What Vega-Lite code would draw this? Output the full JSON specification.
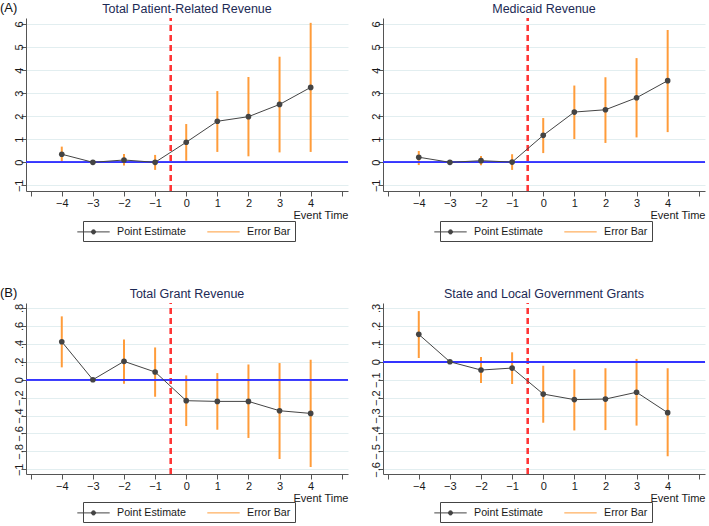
{
  "$schema": "https://vega.github.io/schema/vega-lite/v6.json",
  "background": "white",
  "padding": {"top": 1, "left": 0, "right": 0, "bottom": 0},
  "config": {
    "view": {"stroke": null},
    "font": "Liberation Sans",
    "axis": {
      "domainColor": "#555555", "tickColor": "#555555", "labelColor": "#1a1a1a",
      "labelFontSize": 11, "labelFont": "Liberation Sans", "tickSize": 5, "labelPadding": 1,
      "labelOverlap": false, "labelSeparation": -40, "labelFlush": false,
      "titleFont": "Liberation Sans", "titleFontWeight": "normal", "titleFontSize": 11, "titleColor": "#1a1a1a",
      "gridColor": "#e2eef0", "domainWidth": 1
    },
    "axisY": {"labelPadding": -3},
    "title": {"font": "Liberation Sans", "fontSize": 12.5, "fontWeight": "normal", "color": "#1c2a55", "offset": 2},
    "legend": {"labelFont": "Liberation Sans", "labelFontSize": 10.7, "labelColor": "#1a1a1a"}
  },
  "data": {
    "values": [
      {"panel": "A1", "t": -4, "est": 0.35, "lo": 0.03, "hi": 0.68},
      {"panel": "A1", "t": -3, "est": 0},
      {"panel": "A1", "t": -2, "est": 0.10, "lo": -0.14, "hi": 0.36},
      {"panel": "A1", "t": -1, "est": 0.00, "lo": -0.33, "hi": 0.32},
      {"panel": "A1", "t": 0, "est": 0.87, "lo": 0.07, "hi": 1.66},
      {"panel": "A1", "t": 1, "est": 1.78, "lo": 0.45, "hi": 3.09},
      {"panel": "A1", "t": 2, "est": 1.98, "lo": 0.26, "hi": 3.70},
      {"panel": "A1", "t": 3, "est": 2.51, "lo": 0.43, "hi": 4.58},
      {"panel": "A1", "t": 4, "est": 3.25, "lo": 0.45, "hi": 6.05},
      {"panel": "A2", "t": -4, "est": 0.22, "lo": -0.12, "hi": 0.49},
      {"panel": "A2", "t": -3, "est": 0},
      {"panel": "A2", "t": -2, "est": 0.07, "lo": -0.13, "hi": 0.27},
      {"panel": "A2", "t": -1, "est": 0.01, "lo": -0.33, "hi": 0.35},
      {"panel": "A2", "t": 0, "est": 1.17, "lo": 0.40, "hi": 1.92},
      {"panel": "A2", "t": 1, "est": 2.18, "lo": 1.01, "hi": 3.33},
      {"panel": "A2", "t": 2, "est": 2.28, "lo": 0.84, "hi": 3.69},
      {"panel": "A2", "t": 3, "est": 2.80, "lo": 1.08, "hi": 4.52},
      {"panel": "A2", "t": 4, "est": 3.54, "lo": 1.31, "hi": 5.74},
      {"panel": "B1", "t": -4, "est": 0.424, "lo": 0.138, "hi": 0.707},
      {"panel": "B1", "t": -3, "est": 0},
      {"panel": "B1", "t": -2, "est": 0.205, "lo": -0.045, "hi": 0.45},
      {"panel": "B1", "t": -1, "est": 0.086, "lo": -0.19, "hi": 0.36},
      {"panel": "B1", "t": 0, "est": -0.234, "lo": -0.517, "hi": 0.048},
      {"panel": "B1", "t": 1, "est": -0.242, "lo": -0.558, "hi": 0.074},
      {"panel": "B1", "t": 2, "est": -0.242, "lo": -0.65, "hi": 0.17},
      {"panel": "B1", "t": 3, "est": -0.346, "lo": -0.885, "hi": 0.186},
      {"panel": "B1", "t": 4, "est": -0.376, "lo": -0.974, "hi": 0.223},
      {"panel": "B2", "t": -4, "est": 0.153, "lo": 0.021, "hi": 0.283},
      {"panel": "B2", "t": -3, "est": 0},
      {"panel": "B2", "t": -2, "est": -0.046, "lo": -0.118, "hi": 0.027},
      {"panel": "B2", "t": -1, "est": -0.035, "lo": -0.124, "hi": 0.053},
      {"panel": "B2", "t": 0, "est": -0.18, "lo": -0.34, "hi": -0.022},
      {"panel": "B2", "t": 1, "est": -0.211, "lo": -0.383, "hi": -0.042},
      {"panel": "B2", "t": 2, "est": -0.208, "lo": -0.381, "hi": -0.036},
      {"panel": "B2", "t": 3, "est": -0.170, "lo": -0.356, "hi": 0.016},
      {"panel": "B2", "t": 4, "est": -0.284, "lo": -0.527, "hi": -0.036}
    ]
  },
  "resolve": {"scale": {"color": "independent"}, "legend": {"color": "independent"}},
  "spacing": 44,
  "vconcat": [
    {
      "title": {"text": "(A)", "anchor": "start", "frame": "bounds", "offset": -12, "dx": -13, "fontSize": 13, "color": "#111111"},
      "spacing": 21,
      "resolve": {"scale": {"color": "independent"}, "legend": {"color": "independent"}},
      "hconcat": [
        {
          "title": "Total Patient-Related Revenue",
          "width": 322, "height": 173,
          "transform": [{"filter": "datum.panel === 'A1'"}],
          "encoding": {
            "x": {"field": "t", "type": "quantitative", "scale": {"domain": [-5.15, 5.2], "nice": false, "zero": false},
                  "axis": {"values": [-5, -4, -3, -2, -1, 0, 1, 2, 3, 4, 5], "labelOverlap": false, "labelExpr": "abs(datum.value) == 5 ? '' : datum.label", "title": "Event Time", "titleAnchor": "end", "titlePadding": 1, "grid": false}},
            "y": {"field": "est", "type": "quantitative", "scale": {"domain": [-1.245, 6.26], "nice": false, "zero": false},
                  "axis": {"values": [-1, 0, 1, 2, 3, 4, 5, 6], "labelOverlap": false, "title": null, "grid": true, "labelAngle": 270, "labelAlign": "center", "labelBaseline": "bottom"}}
          },
          "layer": [
            {"mark": {"type": "rule", "color": "#ff3535", "strokeWidth": 1.5, "strokeDash": [6, 4]}, "encoding": {"x": {"datum": -0.5}, "y": {"datum": -1.245}, "y2": {"datum": 6.26}}},
            {
              "transform": [{"filter": "isValid(datum.lo)"}],
              "mark": {"type": "rule", "strokeWidth": 2},
              "encoding": {
                "y": {"field": "lo", "type": "quantitative"},
                "y2": {"field": "hi"},
                "color": {"datum": "Error Bar", "type": "nominal",
                          "scale": {"domain": ["Point Estimate", "Error Bar"], "range": ["#444444", "#ff9c3a"]},
                          "legend": {"title": null, "orient": "none", "legendX": 57, "legendY": 203, "direction": "horizontal",
                                     "strokeColor": "#444444", "padding": 4, "symbolSize": 144, "labelOffset": 17, "columnPadding": 19,
                                     "encode": {"symbols": {"update": {
                                       "shape": {"signal": "datum.value === 'Point Estimate' ? 'M-2.7,0H2.7M-0.35,0A0.35,0.35 0 1,0 0.35,0A0.35,0.35 0 1,0 -0.35,0Z' : 'M-2.7,0H2.7'"},
                                       "fill": {"signal": "datum.value === 'Point Estimate' ? '#444444' : 'transparent'"},
                                       "stroke": {"signal": "datum.value === 'Point Estimate' ? '#444444' : '#ff9c3a'"},
                                       "strokeWidth": {"value": 1}, "opacity": {"value": 1}}}}}}
              }
            },
            {"mark": {"type": "rule", "color": "#3535ff", "strokeWidth": 1.3}, "encoding": {"y": {"datum": 0}, "x": {"datum": -5.15}, "x2": {"datum": 5.2}}},
            {"mark": {"type": "line", "strokeWidth": 1}, "encoding": {"color": {"datum": "Point Estimate", "type": "nominal"}}},
            {"mark": {"type": "point", "filled": true, "size": 32, "opacity": 1}, "encoding": {"color": {"datum": "Point Estimate", "type": "nominal"}}}
          ]
        },
        {
          "title": "Medicaid Revenue",
          "width": 322, "height": 173,
          "transform": [{"filter": "datum.panel === 'A2'"}],
          "encoding": {
            "x": {"field": "t", "type": "quantitative", "scale": {"domain": [-5.15, 5.2], "nice": false, "zero": false},
                  "axis": {"values": [-5, -4, -3, -2, -1, 0, 1, 2, 3, 4, 5], "labelOverlap": false, "labelExpr": "abs(datum.value) == 5 ? '' : datum.label", "title": "Event Time", "titleAnchor": "end", "titlePadding": 1, "grid": false}},
            "y": {"field": "est", "type": "quantitative", "scale": {"domain": [-1.245, 6.26], "nice": false, "zero": false},
                  "axis": {"values": [-1, 0, 1, 2, 3, 4, 5, 6], "labelOverlap": false, "title": null, "grid": true, "labelAngle": 270, "labelAlign": "center", "labelBaseline": "bottom"}}
          },
          "layer": [
            {"mark": {"type": "rule", "color": "#ff3535", "strokeWidth": 1.5, "strokeDash": [6, 4]}, "encoding": {"x": {"datum": -0.5}, "y": {"datum": -1.245}, "y2": {"datum": 6.26}}},
            {
              "transform": [{"filter": "isValid(datum.lo)"}],
              "mark": {"type": "rule", "strokeWidth": 2},
              "encoding": {
                "y": {"field": "lo", "type": "quantitative"},
                "y2": {"field": "hi"},
                "color": {"datum": "Error Bar", "type": "nominal",
                          "scale": {"domain": ["Point Estimate", "Error Bar"], "range": ["#444444", "#ff9c3a"]},
                          "legend": {"title": null, "orient": "none", "legendX": 57, "legendY": 203, "direction": "horizontal",
                                     "strokeColor": "#444444", "padding": 4, "symbolSize": 144, "labelOffset": 17, "columnPadding": 19,
                                     "encode": {"symbols": {"update": {
                                       "shape": {"signal": "datum.value === 'Point Estimate' ? 'M-2.7,0H2.7M-0.35,0A0.35,0.35 0 1,0 0.35,0A0.35,0.35 0 1,0 -0.35,0Z' : 'M-2.7,0H2.7'"},
                                       "fill": {"signal": "datum.value === 'Point Estimate' ? '#444444' : 'transparent'"},
                                       "stroke": {"signal": "datum.value === 'Point Estimate' ? '#444444' : '#ff9c3a'"},
                                       "strokeWidth": {"value": 1}, "opacity": {"value": 1}}}}}}
              }
            },
            {"mark": {"type": "rule", "color": "#3535ff", "strokeWidth": 1.3}, "encoding": {"y": {"datum": 0}, "x": {"datum": -5.15}, "x2": {"datum": 5.2}}},
            {"mark": {"type": "line", "strokeWidth": 1}, "encoding": {"color": {"datum": "Point Estimate", "type": "nominal"}}},
            {"mark": {"type": "point", "filled": true, "size": 32, "opacity": 1}, "encoding": {"color": {"datum": "Point Estimate", "type": "nominal"}}}
          ]
        }
      ]
    },
    {
      "title": {"text": "(B)", "anchor": "start", "frame": "bounds", "offset": -12, "dx": -13, "fontSize": 13, "color": "#111111"},
      "spacing": 21,
      "resolve": {"scale": {"color": "independent"}, "legend": {"color": "independent"}},
      "hconcat": [
        {
          "title": "Total Grant Revenue",
          "width": 322, "height": 171,
          "transform": [{"filter": "datum.panel === 'B1'"}],
          "encoding": {
            "x": {"field": "t", "type": "quantitative", "scale": {"domain": [-5.15, 5.2], "nice": false, "zero": false},
                  "axis": {"values": [-5, -4, -3, -2, -1, 0, 1, 2, 3, 4, 5], "labelOverlap": false, "labelExpr": "abs(datum.value) == 5 ? '' : datum.label", "title": "Event Time", "titleAnchor": "end", "titlePadding": 1, "grid": false}},
            "y": {"field": "est", "type": "quantitative", "scale": {"domain": [-1.052, 0.856], "nice": false, "zero": false},
                  "axis": {"values": [-1, -0.8, -0.6, -0.4, -0.2, 0, 0.2, 0.4, 0.6, 0.8], "labelOverlap": false, "title": null, "grid": true, "labelAngle": 270, "labelAlign": "center", "labelBaseline": "bottom",
                           "labelExpr": "abs(datum.value) < 0.001 ? '0' : (abs(datum.value) > 0.999 ? format(datum.value, 'd') : replace(format(datum.value, '.1f'), '0.', '.'))"}}
          },
          "layer": [
            {"mark": {"type": "rule", "color": "#ff3535", "strokeWidth": 1.5, "strokeDash": [6, 4]}, "encoding": {"x": {"datum": -0.5}, "y": {"datum": -1.052}, "y2": {"datum": 0.856}}},
            {
              "transform": [{"filter": "isValid(datum.lo)"}],
              "mark": {"type": "rule", "strokeWidth": 2},
              "encoding": {
                "y": {"field": "lo", "type": "quantitative"},
                "y2": {"field": "hi"},
                "color": {"datum": "Error Bar", "type": "nominal",
                          "scale": {"domain": ["Point Estimate", "Error Bar"], "range": ["#444444", "#ff9c3a"]},
                          "legend": {"title": null, "orient": "none", "legendX": 57, "legendY": 199, "direction": "horizontal",
                                     "strokeColor": "#444444", "padding": 4, "symbolSize": 144, "labelOffset": 17, "columnPadding": 19,
                                     "encode": {"symbols": {"update": {
                                       "shape": {"signal": "datum.value === 'Point Estimate' ? 'M-2.7,0H2.7M-0.35,0A0.35,0.35 0 1,0 0.35,0A0.35,0.35 0 1,0 -0.35,0Z' : 'M-2.7,0H2.7'"},
                                       "fill": {"signal": "datum.value === 'Point Estimate' ? '#444444' : 'transparent'"},
                                       "stroke": {"signal": "datum.value === 'Point Estimate' ? '#444444' : '#ff9c3a'"},
                                       "strokeWidth": {"value": 1}, "opacity": {"value": 1}}}}}}
              }
            },
            {"mark": {"type": "rule", "color": "#3535ff", "strokeWidth": 1.3}, "encoding": {"y": {"datum": 0}, "x": {"datum": -5.15}, "x2": {"datum": 5.2}}},
            {"mark": {"type": "line", "strokeWidth": 1}, "encoding": {"color": {"datum": "Point Estimate", "type": "nominal"}}},
            {"mark": {"type": "point", "filled": true, "size": 32, "opacity": 1}, "encoding": {"color": {"datum": "Point Estimate", "type": "nominal"}}}
          ]
        },
        {
          "title": "State and Local Government Grants",
          "width": 322, "height": 171,
          "transform": [{"filter": "datum.panel === 'B2'"}],
          "encoding": {
            "x": {"field": "t", "type": "quantitative", "scale": {"domain": [-5.15, 5.2], "nice": false, "zero": false},
                  "axis": {"values": [-5, -4, -3, -2, -1, 0, 1, 2, 3, 4, 5], "labelOverlap": false, "labelExpr": "abs(datum.value) == 5 ? '' : datum.label", "title": "Event Time", "titleAnchor": "end", "titlePadding": 1, "grid": false}},
            "y": {"field": "est", "type": "quantitative", "scale": {"domain": [-0.626, 0.328], "nice": false, "zero": false},
                  "axis": {"values": [-0.6, -0.5, -0.4, -0.3, -0.2, -0.1, 0, 0.1, 0.2, 0.3], "labelOverlap": false, "title": null, "grid": true, "labelAngle": 270, "labelAlign": "center", "labelBaseline": "bottom",
                           "labelExpr": "abs(datum.value) < 0.001 ? '0' : replace(format(datum.value, '.1f'), '0.', '.')"}}
          },
          "layer": [
            {"mark": {"type": "rule", "color": "#ff3535", "strokeWidth": 1.5, "strokeDash": [6, 4]}, "encoding": {"x": {"datum": -0.5}, "y": {"datum": -0.626}, "y2": {"datum": 0.328}}},
            {
              "transform": [{"filter": "isValid(datum.lo)"}],
              "mark": {"type": "rule", "strokeWidth": 2},
              "encoding": {
                "y": {"field": "lo", "type": "quantitative"},
                "y2": {"field": "hi"},
                "color": {"datum": "Error Bar", "type": "nominal",
                          "scale": {"domain": ["Point Estimate", "Error Bar"], "range": ["#444444", "#ff9c3a"]},
                          "legend": {"title": null, "orient": "none", "legendX": 57, "legendY": 199, "direction": "horizontal",
                                     "strokeColor": "#444444", "padding": 4, "symbolSize": 144, "labelOffset": 17, "columnPadding": 19,
                                     "encode": {"symbols": {"update": {
                                       "shape": {"signal": "datum.value === 'Point Estimate' ? 'M-2.7,0H2.7M-0.35,0A0.35,0.35 0 1,0 0.35,0A0.35,0.35 0 1,0 -0.35,0Z' : 'M-2.7,0H2.7'"},
                                       "fill": {"signal": "datum.value === 'Point Estimate' ? '#444444' : 'transparent'"},
                                       "stroke": {"signal": "datum.value === 'Point Estimate' ? '#444444' : '#ff9c3a'"},
                                       "strokeWidth": {"value": 1}, "opacity": {"value": 1}}}}}}
              }
            },
            {"mark": {"type": "rule", "color": "#3535ff", "strokeWidth": 1.3}, "encoding": {"y": {"datum": 0}, "x": {"datum": -5.15}, "x2": {"datum": 5.2}}},
            {"mark": {"type": "line", "strokeWidth": 1}, "encoding": {"color": {"datum": "Point Estimate", "type": "nominal"}}},
            {"mark": {"type": "point", "filled": true, "size": 32, "opacity": 1}, "encoding": {"color": {"datum": "Point Estimate", "type": "nominal"}}}
          ]
        }
      ]
    }
  ]
}
